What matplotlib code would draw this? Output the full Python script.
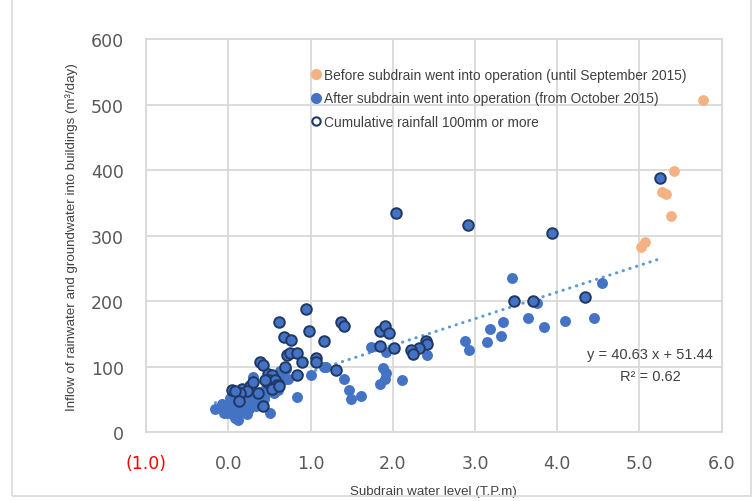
import numpy as np
import matplotlib.pyplot as plt
from matplotlib.lines import Line2D
from matplotlib.patches import Rectangle

# before subdrain went into operation (until September 2015)
before_x = [5.02, 5.07, 5.28, 5.32, 5.38, 5.42, 5.77]
before_y = [283, 291, 366, 363, 330, 398, 507]

# after subdrain went into operation, ordinary days
after_x = [3.45, 3.76, 3.64, 3.84, 4.10, 4.45, 4.54, 3.34, 3.18, 3.32,
           3.15, 2.88, 2.93, 2.35, 2.42, 1.73, 1.92, 1.16, 1.41, 1.47,
           1.49, 1.61, 1.88, 1.92, 1.90, 1.84, 2.11, 1.01, 1.19, 0.63,
           0.53, 0.30, 0.69, 0.84, 0.51, -0.16, -0.08, -0.02, 0.04, 0.06,
           0.10, 0.18, 0.22, 0.26, 0.30, 0.32, 0.38, 0.40, 0.47, 0.53,
           0.63, 0.65, 0.72, 0.70, 0.12, 0.00, 0.05, 0.15, 0.20, 0.10,
           0.25, 0.35, 0.13, 0.08, 0.28, 0.45, 0.55, 0.60, 0.02, 0.17,
           -0.05, 0.07, 0.22, 0.33, 0.43, 0.58, 0.14, 0.27]
after_y = [235, 198, 174, 161, 170, 175, 228, 168, 158, 147,
           137, 140, 126, 128, 118, 130, 122, 99, 81, 65,
           50, 55, 98, 91, 82, 74, 79, 88, 99, 94,
           81, 84, 81, 54, 30, 35, 43, 38, 41, 33,
           25, 33, 41, 46, 51, 56, 53, 61, 66, 69,
           76, 92, 81, 97, 18, 30, 50, 45, 52, 38,
           35, 44, 28, 22, 62, 58, 60, 64, 52, 38,
           30, 45, 28, 40, 50, 68, 55, 57]

# after subdrain, cumulative rainfall 100mm or more
rain_x = [5.25, 3.94, 2.04, 2.91, 4.34, 3.48, 3.70, 2.40, 2.42, 2.32,
          2.22, 2.24, 2.01, 1.84, 1.84, 1.91, 1.95, 1.37, 1.41, 1.16,
          1.31, 0.94, 0.62, 0.98, 0.68, 0.76, 0.71, 0.75, 0.84, 0.89,
          1.06, 1.06, 0.69, 0.38, 0.42, 0.84, 0.48, 0.47, 0.55, 0.60,
          0.42, 0.04, 0.16, 0.26, 0.30, 0.22, 0.14, 0.08, 0.36, 0.13,
          0.53, 0.49, 0.57, 0.59, 0.53, 0.62, 0.45]
rain_y = [388, 304, 334, 317, 207, 200, 201, 140, 134, 128,
          125, 120, 129, 131, 154, 162, 152, 169, 162, 139,
          95, 188, 168, 155, 145, 141, 118, 121, 121, 107,
          113, 107, 99, 107, 102, 87, 89, 77, 75, 73,
          40, 65, 66, 71, 76, 63, 60, 63, 60, 48,
          88, 80, 79, 72, 66, 71, 79]

# linear trendline of the after-operation points
trend_slope = 40.63
trend_intercept = 51.44
trend_r2 = 0.62

x_ticks = [-1, 0, 1, 2, 3, 4, 5, 6]
x_tick_labels = ['(1.0)', '0.0', '1.0', '2.0', '3.0', '4.0', '5.0', '6.0']
y_ticks = [0, 100, 200, 300, 400, 500, 600]

ORANGE = '#F4B183'
BLUE = '#4472C4'
NAVY = '#1F3864'
TREND = '#5B9BD5'
GRID = '#D9D9D9'
TEXT = '#595959'
SANS = ['Liberation Sans', 'DejaVu Sans']


def main():
    fig = plt.figure(figsize=(7.54, 5.02), dpi=100)
    ax = fig.add_axes([0.194, 0.137, 0.763, 0.783])

    # outer chart frame
    fig.patches.append(Rectangle((12 / 754, 5 / 502), 739 / 754, 1.0,
                                 transform=fig.transFigure, fill=False,
                                 edgecolor=GRID, linewidth=1.2))

    all_x = np.array(after_x + rain_x)
    tx = np.array([all_x.min(), all_x.max()])
    ax.plot(tx, trend_slope * tx + trend_intercept, color=TREND, lw=2.2,
            linestyle=(0, (0.1, 2.2)), dash_capstyle='round', zorder=2)

    ax.scatter(before_x, before_y, s=60, color=ORANGE, linewidths=0, zorder=3)
    ax.scatter(after_x, after_y, s=62, color=BLUE, linewidths=0, zorder=3)
    ax.scatter(rain_x, rain_y, s=58, color=BLUE, edgecolors=NAVY,
               linewidths=1.4, zorder=4)

    ax.set_xlim(-1, 6)
    ax.set_ylim(0, 600)
    ax.set_xticks(x_ticks)
    ax.set_xticklabels(x_tick_labels)
    ax.set_yticks(y_ticks)
    ax.grid(True, color=GRID, linewidth=1.3)
    ax.set_axisbelow(True)
    for s in ax.spines.values():
        s.set_color(GRID)
        s.set_linewidth(1.3)
    ax.tick_params(length=0, labelsize=12.5, labelcolor=TEXT)
    ax.tick_params(axis='x', pad=16)
    ax.tick_params(axis='y', pad=16)
    ax.get_xticklabels()[0].set_color('#FF0000')

    ax.set_ylabel('Inflow of rainwater and groundwater into buildings (m³/day)',
                  family=SANS, fontsize=9.6, color='#404040', labelpad=9)
    ax.set_xlabel('Subdrain water level (T.P.m)', family=SANS,
                  fontsize=9.6, color='#404040', labelpad=9)

    ax.text(0.985, 0.199, 'y = %.2f x + %.2f' % (trend_slope, trend_intercept),
            transform=ax.transAxes, ha='right', va='center', family=SANS,
            fontsize=10.5, color='#404040')
    ax.text(0.877, 0.144, 'R² = %.2f' % trend_r2, transform=ax.transAxes,
            ha='center', va='center', family=SANS, fontsize=10.5,
            color='#404040')

    handles = [
        Line2D([], [], ls='none', marker='o', ms=7, mfc=ORANGE, mec=ORANGE),
        Line2D([], [], ls='none', marker='o', ms=7, mfc=BLUE, mec=BLUE),
        Line2D([], [], ls='none', marker='o', ms=6, mfc='white', mec=NAVY,
               mew=1.5),
    ]
    labels = ['Before subdrain went into operation (until September 2015)',
              'After subdrain went into operation (from October 2015)',
              'Cumulative rainfall 100mm or more']
    leg = ax.legend(handles, labels, loc='upper left',
                    bbox_to_anchor=(312 / 754, 1 - 69 / 502),
                    bbox_transform=fig.transFigure, frameon=False,
                    prop={'family': SANS, 'size': 9.9},
                    handlelength=0.6, handletextpad=0.25, labelspacing=0.68,
                    borderpad=0, borderaxespad=0)
    for t in leg.get_texts():
        t.set_color('#404040')

    fig.savefig('out.png', dpi=100)


if __name__ == '__main__':
    main()
